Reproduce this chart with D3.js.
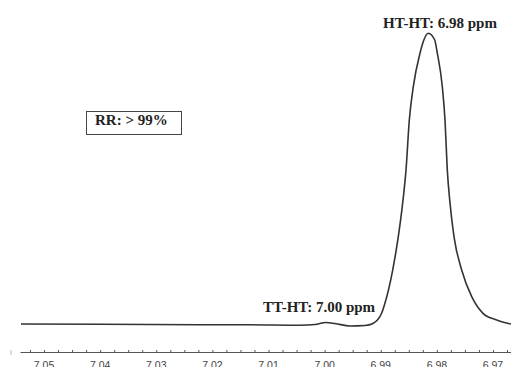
<!DOCTYPE html>
<html>
<head>
<meta charset="utf-8">
<script src="https://cdn.jsdelivr.net/npm/d3@7"></script>
<style>
  body { margin: 0; background: #fff; }
</style>
</head>
<body>
<div id="canvas"></div>
<script>
"use strict"

// chemical shift (ppm) and relative intensity
let shifts = [7.0541, 7.0400, 7.0222, 7.0133, 7.0044, 7.0017, 6.99976, 6.99815, 6.99548, 6.9928,
    6.9914, 6.98983, 6.98924, 6.98787, 6.98687, 6.98609, 6.9855, 6.98491, 6.9842, 6.98301,
    6.9823, 6.98153, 6.9804, 6.97992, 6.97903, 6.97855, 6.97814, 6.97766, 6.97695, 6.97558,
    6.97379, 6.97178, 6.96934, 6.9668];
let intensity = [0.68, 0.58, 0.44, 0.41, 0.24, 0.51, 1.19, 0.85, 0, 0.17,
    0.85, 4.44, 7.85, 19.1, 30.5, 42.0, 53.2, 70.3, 81.7, 93.1,
    97.7, 99.9, 97.7, 93.1, 81.7, 70.3, 53.2, 42.0, 30.5, 19.1,
    10.0, 4.33, 2.05, 0.68];

let tickLabels = ["7.05", "7.04", "7.03", "7.02", "7.01", "7.00", "6.99", "6.98", "6.97"];

let drawing = d3.select("#canvas")
    .append("svg")
    .attr("width", 511)
    .attr("height", 367);

let x = d3.scaleLinear()
    .domain([7.05428, 6.96679]) // ppm runs right to left
    .range([20, 511]);

let y = d3.scaleLinear()
    .domain([0, 100])
    .range([326, 33]);

// axis
let axisY = 352;

let minorTicks = d3.range(0, 36).map(i => 7.0525 - i * 0.0025);

drawing.append("g")
    .attr("transform", "translate(0," + axisY + ")")
    .call(d3.axisBottom(x)
        .tickValues(minorTicks)
        .tickSizeInner(2)
        .tickSizeOuter(0)
        .tickFormat(""))
    .call(g => g.select(".domain").attr("stroke", "#555").attr("stroke-width", 1.2))
    .call(g => g.selectAll(".tick line")
        .attr("y1", -2)
        .attr("y2", 1)
        .attr("stroke", "#555"));

drawing.selectAll(".ppmLabel")
    .data(tickLabels)
    .enter()
    .append("text")
    .attr("class", "ppmLabel")
    .attr("x", d => x(Number(d)))
    .attr("y", 369)
    .attr("text-anchor", "middle")
    .attr("font-family", "Liberation Sans, Arial, sans-serif")
    .attr("font-size", 10.5)
    .attr("fill", "#444")
    .text(d => d);

// little stray mark left of the axis
drawing.append("line")
    .attr("x1", 11)
    .attr("y1", 350)
    .attr("x2", 11)
    .attr("y2", 355)
    .attr("stroke", "#bbb");

// spectrum
let line = d3.line()
    .x((d, i) => x(shifts[i]))
    .y(d => y(d))
    .curve(d3.curveMonotoneX);

drawing.append("path")
    .attr("d", line(intensity))
    .attr("fill", "none")
    .attr("stroke", "#333")
    .attr("stroke-width", 1.6);

// labels
let serif = "Liberation Serif, Times New Roman, serif";

drawing.append("text")
    .attr("x", 440)
    .attr("y", 28)
    .attr("text-anchor", "middle")
    .attr("font-family", serif)
    .attr("font-weight", "bold")
    .attr("font-size", 15)
    .attr("fill", "#222")
    .text("HT-HT: 6.98 ppm");

drawing.append("text")
    .attr("x", 263)
    .attr("y", 312)
    .attr("font-family", serif)
    .attr("font-weight", "bold")
    .attr("font-size", 15)
    .attr("fill", "#222")
    .text("TT-HT: 7.00 ppm");

// RR box
drawing.append("rect")
    .attr("x", 86.5)
    .attr("y", 111.5)
    .attr("width", 95)
    .attr("height", 23)
    .attr("fill", "white")
    .attr("stroke", "#444")
    .attr("stroke-width", 1);

drawing.append("text")
    .attr("x", 95)
    .attr("y", 124.5)
    .attr("font-family", serif)
    .attr("font-weight", "bold")
    .attr("font-size", 15)
    .attr("fill", "#222")
    .text("RR: > 99%");
</script>
</body>
</html>
